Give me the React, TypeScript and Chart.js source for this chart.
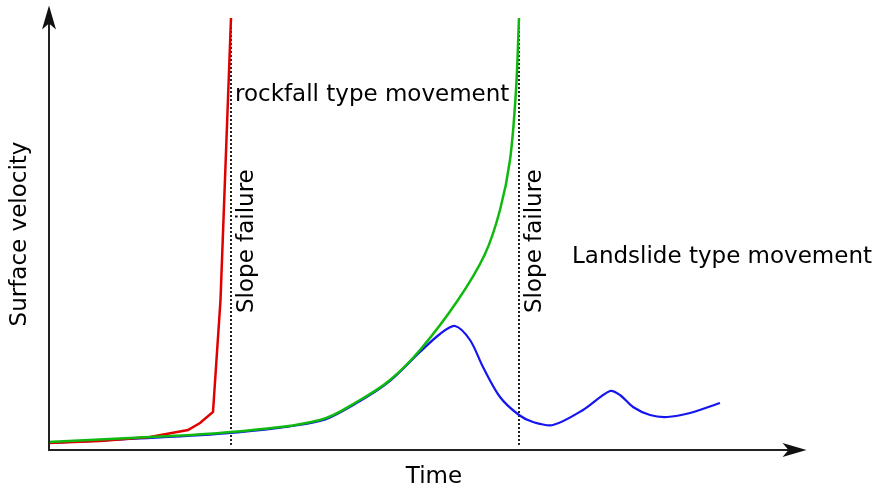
import React, { useEffect, useRef } from "react";
import { Chart, registerables } from "chart.js";

Chart.register(...registerables);

// Time (arbitrary units) / surface velocity (arbitrary units)
const rockfallX = [0, 52, 102, 140, 152, 165, 172.5, 183];
const rockfallY = [7, 9, 13, 20, 27, 38, 150, 432];

const failureX = [0, 82, 183, 272, 312, 342, 372, 410, 437, 452, 462, 468, 471];
const failureY = [8, 12, 18, 30, 50, 70, 100, 150, 196, 240, 290, 360, 432];

const landslideX = [0, 82, 183, 272, 312, 342, 372, 392, 407, 422, 435, 452, 471, 485, 505, 535, 562, 572, 585, 602, 619, 642, 672];
const landslideY = [7, 11, 17, 29, 49, 69, 98, 116, 124, 110, 83, 53, 35, 28, 25, 40, 59, 55, 43, 35, 33, 37, 47];

const failureTimes = [183, 471];
const markerRange = [5, 432];

const xRange = [0, 772];
const yRange = [0, 432];

const xTitle = "Time";
const yTitle = "Surface velocity";
const failureLabel = "Slope failure";
const rockfallLabel = "rockfall type movement";
const landslideLabel = "Landslide type movement";

const FONT = "DejaVu Sans";

const pts = (xs: number[], ys: number[]) => xs.map((x, i) => ({ x, y: ys[i] }));

const decorPlugin = {
  id: "decor",
  afterDraw(chart: any) {
    const { ctx, chartArea, scales } = chart;
    const ax = chartArea.left + 1;
    const ay = chartArea.bottom;
    ctx.save();
    ctx.strokeStyle = "#222";
    ctx.fillStyle = "#111";
    ctx.lineWidth = 2;
    ctx.beginPath();
    ctx.moveTo(ax, ay + 1);
    ctx.lineTo(ax, 22);
    ctx.moveTo(ax - 1, ay);
    ctx.lineTo(790, ay);
    ctx.stroke();
    ctx.beginPath();
    ctx.moveTo(ax, 5.5);
    ctx.lineTo(ax + 7, 29.5);
    ctx.lineTo(ax, 23.5);
    ctx.lineTo(ax - 7, 29.5);
    ctx.closePath();
    ctx.fill();
    ctx.beginPath();
    ctx.moveTo(806.5, ay);
    ctx.lineTo(782.5, ay - 7);
    ctx.lineTo(788.5, ay);
    ctx.lineTo(782.5, ay + 7);
    ctx.closePath();
    ctx.fill();

    ctx.fillStyle = "#000";
    ctx.font = `23px "${FONT}"`;
    ctx.textAlign = "left";
    ctx.textBaseline = "alphabetic";
    const x1 = scales.x.getPixelForValue(failureTimes[0]);
    const x2 = scales.x.getPixelForValue(failureTimes[1]);
    ctx.fillText(rockfallLabel, x1 + 4, 101);
    ctx.fillText(landslideLabel, 572, 263);
    for (const px of [x1, x2]) {
      ctx.save();
      ctx.translate(px + 22.3, 313);
      ctx.rotate(-Math.PI / 2);
      ctx.fillText(failureLabel, 0, 0);
      ctx.restore();
    }
    ctx.restore();
  },
};

export default function App() {
  const ref = useRef<HTMLCanvasElement | null>(null);
  useEffect(() => {
    if (!ref.current) return;
    Chart.defaults.font.family = FONT;
    const chart = new Chart(ref.current, {
      type: "line",
      data: {
        datasets: [
          {
            label: "failure",
            data: pts(failureX, failureY),
            borderColor: "#10b910",
            borderWidth: 2.5,
            tension: 0.35,
            pointRadius: 0,
            fill: false,
          },
          {
            label: "rockfall",
            data: pts(rockfallX, rockfallY),
            borderColor: "#e00000",
            borderWidth: 2.5,
            tension: 0,
            pointRadius: 0,
            fill: false,
          },
          {
            label: "landslide",
            data: pts(landslideX, landslideY),
            borderColor: "#1515f0",
            borderWidth: 2.2,
            tension: 0.3,
            pointRadius: 0,
            fill: false,
          },
          ...failureTimes.map((t, i) => ({
            label: "marker" + i,
            data: pts([t, t], markerRange),
            borderColor: "#222",
            borderWidth: 2,
            borderDash: [2, 2],
            tension: 0,
            pointRadius: 0,
            fill: false,
          })),
        ],
      },
      options: {
        animation: false,
        responsive: false,
        layout: { padding: { left: 2.6, right: 56, top: 18, bottom: 0.2 } },
        plugins: { legend: { display: false }, tooltip: { enabled: false } },
        scales: {
          x: {
            type: "linear",
            min: xRange[0],
            max: xRange[1],
            grid: { display: false, drawTicks: false },
            border: { display: false },
            ticks: { display: false },
            title: {
              display: true,
              text: xTitle,
              color: "#000",
              font: { size: 23, family: FONT },
              padding: { top: 13.2, bottom: 0 },
            },
          },
          y: {
            type: "linear",
            min: yRange[0],
            max: yRange[1],
            grid: { display: false, drawTicks: false },
            border: { display: false },
            ticks: { display: false },
            title: {
              display: true,
              text: yTitle,
              color: "#000",
              font: { size: 23, family: FONT },
              padding: { top: 4, bottom: 13.8 },
            },
          },
        },
      },
      plugins: [decorPlugin],
    });
    return () => chart.destroy();
  }, []);
  return (
    <div style={{ position: "absolute", left: 0, top: 0, width: 876, height: 491 }}>
      <canvas ref={ref} width={876} height={491} style={{ display: "block" }} />
    </div>
  );
}
